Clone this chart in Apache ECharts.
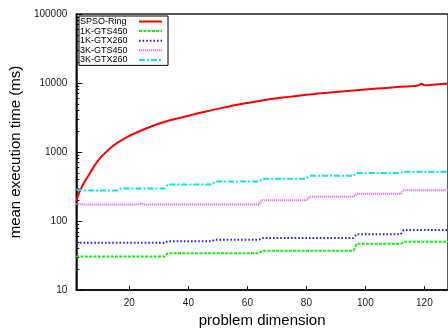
<!DOCTYPE html>
<html>
<head>
<meta charset="utf-8">
<script src="https://cdn.jsdelivr.net/npm/echarts@6/dist/echarts.min.js"></script>
<style>
  html, body { margin: 0; padding: 0; background: #fff; }
  #chart { width: 448px; height: 333px; }
</style>
</head>
<body>
<div id="chart"></div>
<script>
// Sequential SPSO (ring topology): dimension -> mean time (ms)
const ringDims = [2, 3, 4, 5, 6, 8, 10, 12, 14, 16, 20, 24, 28, 32, 36, 40, 44, 48, 52, 56, 60, 64,
  68, 72, 76, 80, 84, 88, 92, 96, 100, 104, 108, 112, 116, 118, 119, 120, 124, 128];
const ringTimes = [195, 260, 320, 385, 445, 620, 810, 990, 1180, 1370, 1720, 2050, 2400, 2750, 3050,
  3350, 3700, 4050, 4400, 4800, 5150, 5500, 5850, 6150, 6450, 6750, 7050, 7300, 7550, 7800, 8050,
  8300, 8550, 8800, 9050, 9200, 9800, 9300, 9550, 9800];

// GPU runs: times change in steps as the dimension crosses block boundaries
const gpuDims = [2, 3, 4, 16, 17, 23, 24, 25, 32, 33, 48, 49, 64, 65, 80, 81, 96, 97, 112, 113, 128];
const gts450_1k = [30.7, 30.7, 30.7, 30.7, 30.7, 30.7, 30.7, 30.7, 30.7, 34.3, 34.3, 34.3, 34.3,
  37.3, 37.3, 37.3, 37.3, 46.9, 46.9, 50, 50];
const gtx260_1k = [48.4, 48.4, 48.4, 48.4, 48.4, 48.4, 48.4, 48.4, 48.4, 51.2, 51.2, 53.7, 53.7,
  57, 57, 57, 57, 64.4, 64.4, 74, 74];
const gts450_3k = [177, 177, 174, 174, 174, 174, 180, 174, 174, 174, 174, 174, 174,
  200, 200, 225, 225, 248, 248, 280, 280];
const gtx260_3k = [286, 286, 277, 277, 296, 296, 296, 296, 296, 340, 340, 375, 375,
  410, 410, 452, 452, 499, 499, 520, 520];

const seriesNames = ['SPSO-Ring', '1K-GTS450', '1K-GTX260', '3K-GTS450', '3K-GTX260'];

const xLabels = [20, 40, 60, 80, 100, 120];
const yLabels = [10, 100, 1000, 10000, 100000];
const yMinor = [];
for (let e = 1; e < 5; e++) {
  for (let m = 2; m <= 9; m++) yMinor.push(m * Math.pow(10, e));
}

function pairs(xs, ys) {
  return xs.map((x, i) => [x, ys[i]]);
}

const font = 'Liberation Sans, Arial, Helvetica, sans-serif';
const legendFont = 'Liberation Sans Narrow, Arial Narrow, Liberation Sans, Arial, sans-serif';

const chart = echarts.init(document.getElementById('chart'), null, { renderer: 'canvas' });

function lineSeries(name, xs, ys, color, type, smooth) {
  return {
    name: name,
    type: 'line',
    data: pairs(xs, ys),
    symbol: 'none',
    smooth: smooth || false,
    animation: false,
    lineStyle: { color: color, width: 2, type: type },
    itemStyle: { color: color }
  };
}

chart.setOption({
  animation: false,
  backgroundColor: '#ffffff',
  grid: {
    left: 75, right: -5, top: 14, bottom: 37,
    show: true, borderColor: '#222', borderWidth: 1.5, backgroundColor: 'transparent'
  },
  legend: {
    data: seriesNames,
    orient: 'vertical',
    left: 79, top: 16,
    align: 'right',
    itemWidth: 23, itemHeight: 6,
    itemGap: 0.6,
    padding: [1, 5, 1, 1],
    borderColor: '#000', borderWidth: 1,
    backgroundColor: '#fff',
    itemStyle: { opacity: 0, borderWidth: 0 },
    formatter: name => '{t|' + name + '}',
    textStyle: {
      fontFamily: legendFont, fontSize: 9, color: '#000', lineHeight: 8.8,
      rich: { t: { width: 54, align: 'left', fontFamily: legendFont, fontSize: 9, color: '#000', lineHeight: 8.8 } }
    }
  },
  xAxis: {
    type: 'value',
    min: 2, max: 128,
    name: 'problem dimension',
    nameLocation: 'middle',
    nameGap: 22,
    nameTextStyle: { fontFamily: font, fontSize: 15, color: '#000' },
    axisLine: { show: true, lineStyle: { color: '#000', width: 1.5 } },
    axisTick: { show: true, inside: true, length: 4, customValues: xLabels, lineStyle: { color: '#000' } },
    axisLabel: { customValues: xLabels, fontFamily: font, fontSize: 10, color: '#222', margin: 8 },
    splitLine: { show: false }
  },
  yAxis: [{
    type: 'log',
    logBase: 10,
    min: 10, max: 100000,
    name: 'mean execution time (ms)',
    nameLocation: 'middle',
    nameGap: 42,
    nameTextStyle: { fontFamily: font, fontSize: 15, color: '#000' },
    axisLine: { show: true, lineStyle: { color: '#000', width: 1.5 } },
    axisTick: { show: true, inside: true, length: 6, customValues: yLabels, lineStyle: { color: '#000' } },
    axisLabel: {
      customValues: yLabels, fontFamily: font, fontSize: 10, color: '#222', margin: 9,
      formatter: v => String(Math.round(v))
    },
    splitLine: { show: false }
  }, {
    type: 'log',
    logBase: 10,
    min: 10, max: 100000,
    position: 'left',
    axisLine: { show: false },
    axisTick: { show: true, inside: true, length: 3, customValues: yMinor, lineStyle: { color: '#000' } },
    axisLabel: { show: false },
    splitLine: { show: false }
  }],
  series: [
    lineSeries(seriesNames[0], ringDims, ringTimes, '#ff0000', 'solid', 0.25),
    lineSeries(seriesNames[1], gpuDims, gts450_1k, '#11ee11', [3, 1.3]),
    lineSeries(seriesNames[2], gpuDims, gtx260_1k, '#2222ff', [1.6, 2]),
    lineSeries(seriesNames[3], gpuDims, gts450_3k, '#ee66ee', [1.2, 0.8]),
    lineSeries(seriesNames[4], gpuDims, gtx260_3k, '#00e8e8', [6, 2, 2, 2])
  ]
});
</script>
</body>
</html>
